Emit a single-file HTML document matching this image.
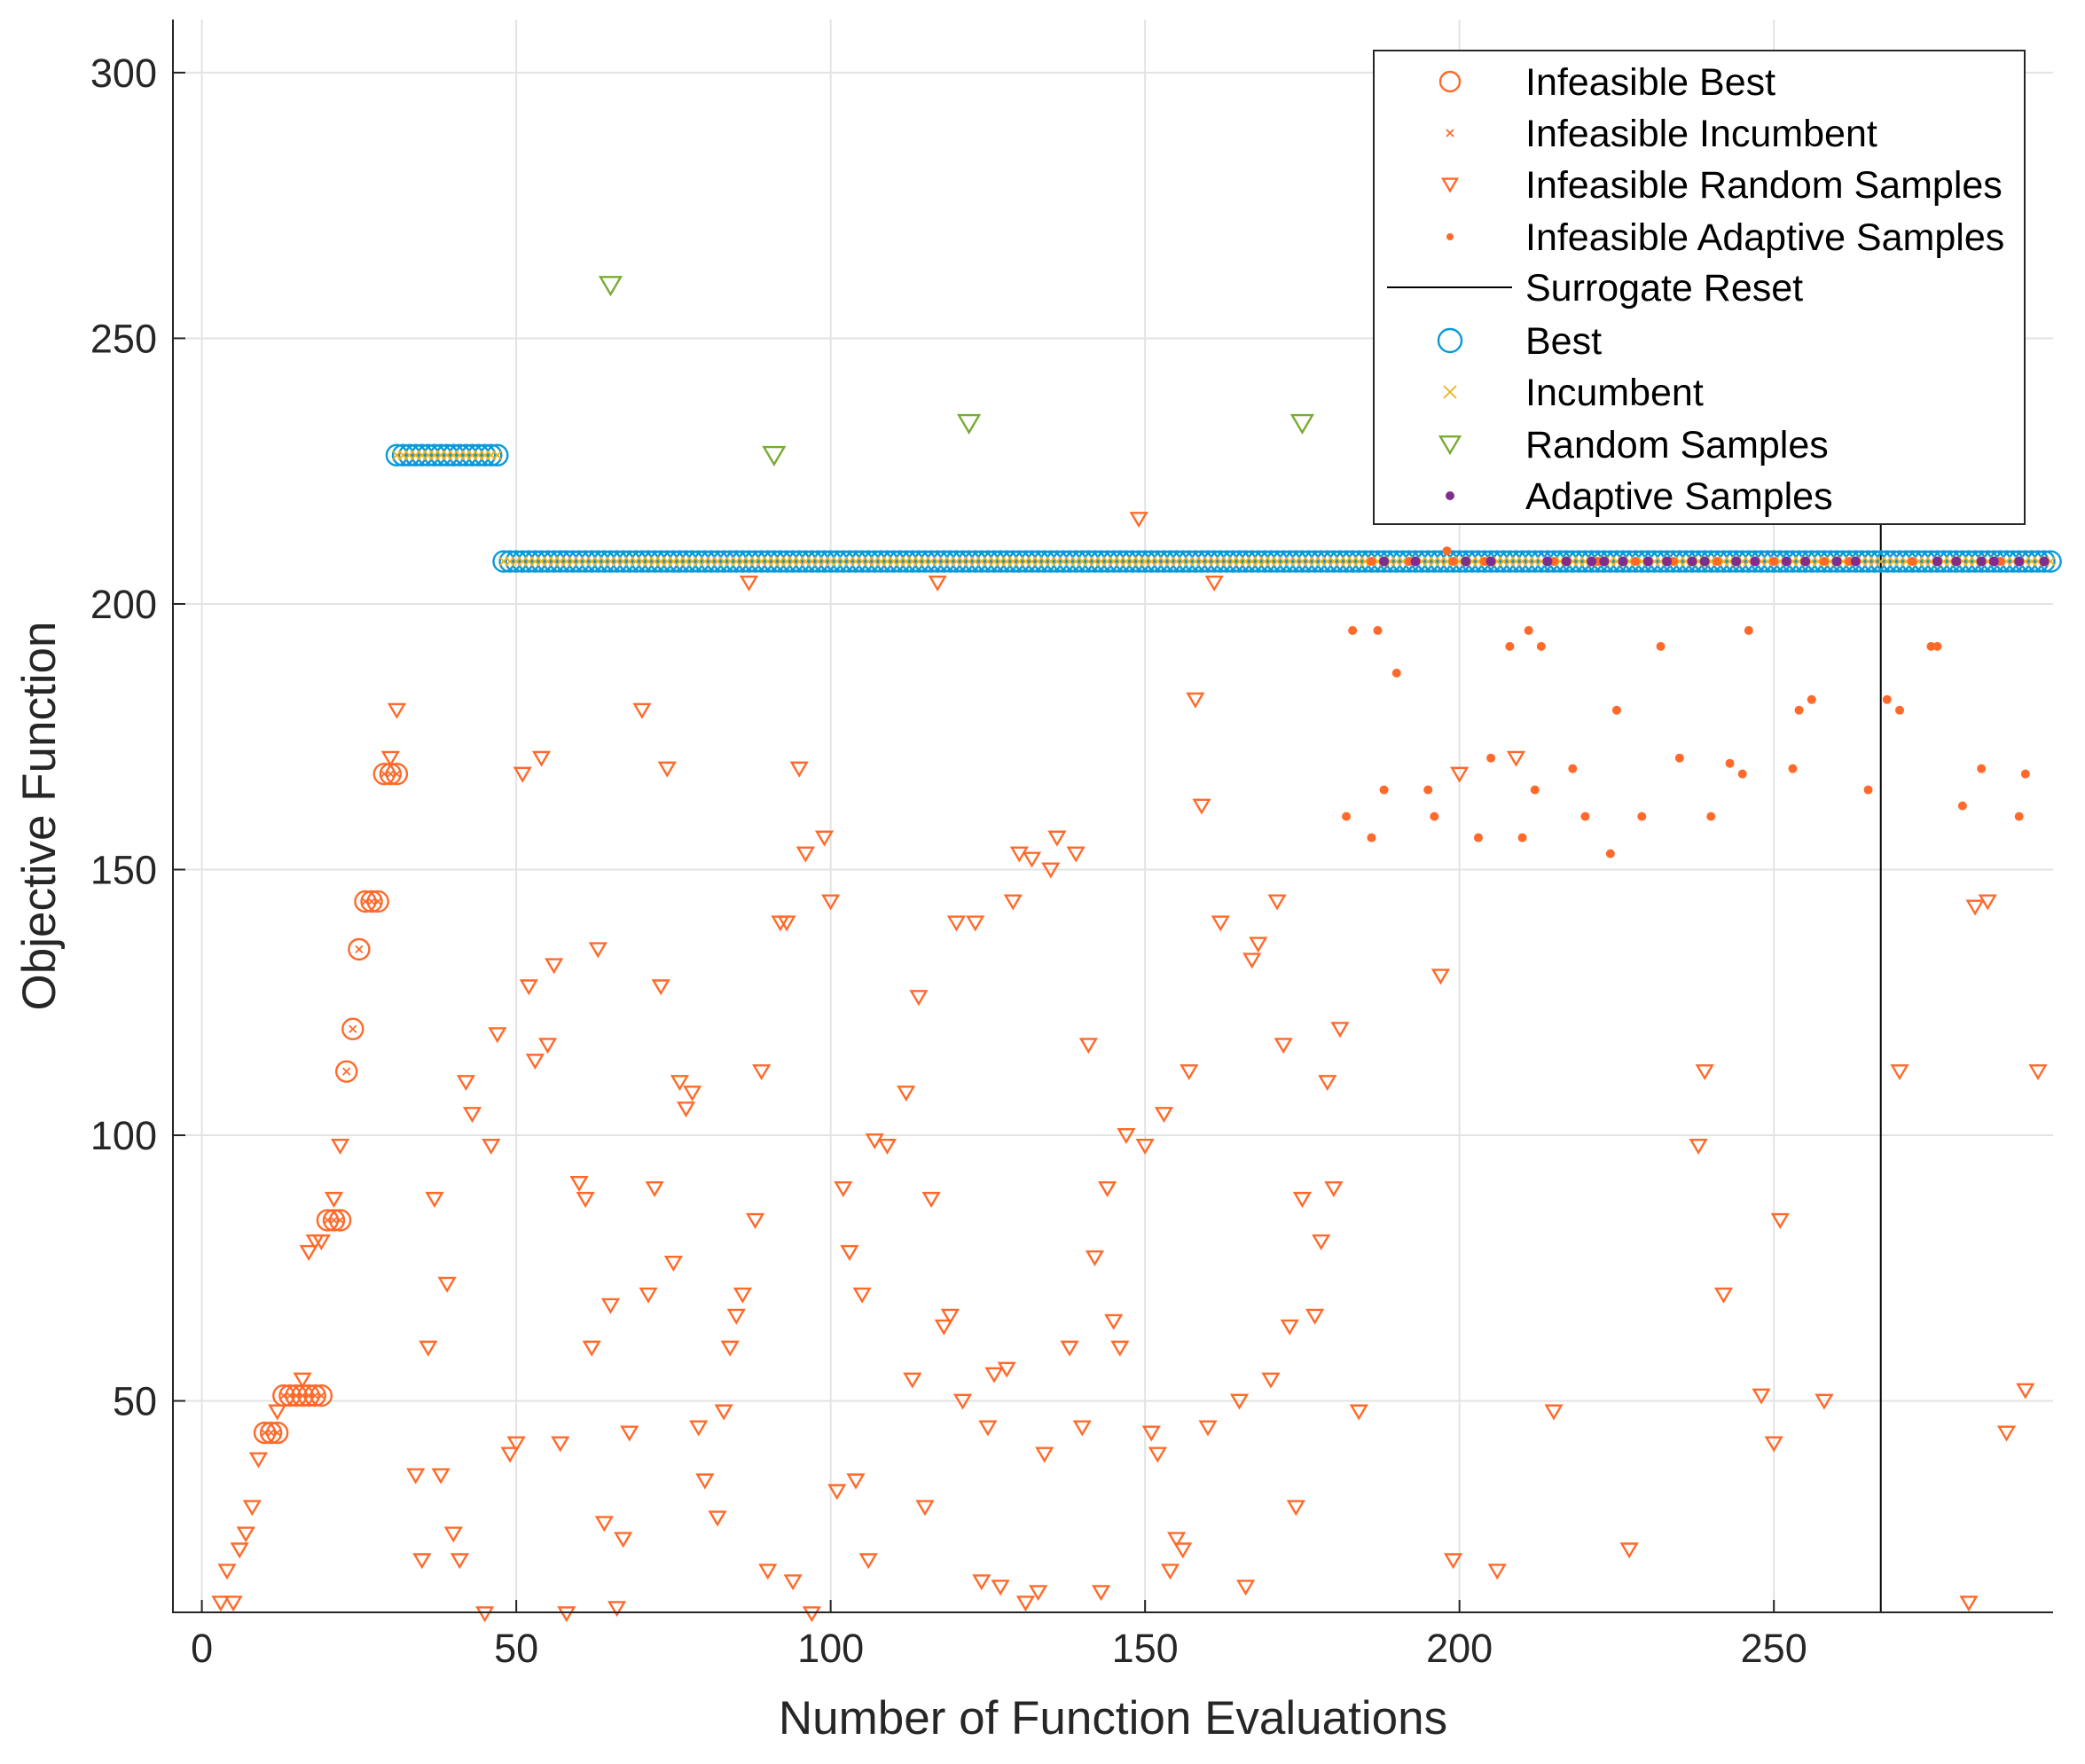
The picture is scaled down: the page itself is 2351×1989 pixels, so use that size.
<!DOCTYPE html>
<html><head><meta charset="utf-8"><style>
html,body{margin:0;padding:0;background:#fff;}
svg{display:block;font-family:"Liberation Sans",Arial,sans-serif;}
</style></head><body>
<svg id="chart" width="2351" height="1989" viewBox="0 0 2351 1989" xmlns="http://www.w3.org/2000/svg">
<g id="grid"></g>
<g id="marks"></g>
<g id="axes"></g>
<text x="1255" y="1955" font-size="53" text-anchor="middle" fill="#262626">Number of Function Evaluations</text>
<text x="0" y="0" font-size="53" text-anchor="middle" fill="#262626" transform="translate(62,920) rotate(-90)">Objective Function</text>
<g id="legend"></g>
</svg>
<script>
const xTicks=[0,50,100,150,200,250];
const yTicks=[50,100,150,200,250,300];
const infBestX=[10,11,12,13,14,15,16,17,18,19,20,21,22,23,24,25,26,27,28,29,30,31];
const infBestY=[44,44,44,51,51,51,51,51,51,51,84,84,84,112,120,135,144,144,144,168,168,168];
const bestX1Start=31, bestX1End=47, bestY1=228;
const bestX2Start=48, bestX2End=294, bestY2=208;
const infRandX=[3,4,5,6,7,8,9,12,16,17,18,19,21,22,30,31,34,35,36,37,38,39,40,41,42,43,45,46,47,49,50,51,52,53,54,55,56,57,58,60,61,62,63,64,65,66,67,68,70,71,72,73,74,75,76,77,78,79,80,82,83,84,85,86,87,88,89,90,92,93,94,95,96,97,99,100,101,102,103,104,105,106,107,109,112,113,114,115,116,117,118,119,120,121,123,124,125,126,127,128,129,130,131,132,133,134,135,136,138,139,140,141,142,143,144,145,146,147,149,150,151,152,153,154,155,156,157,158,159,160,161,162,165,166,167,168,170,171,172,173,174,175,177,178,179,180,181,184,197,199,200,206,209,215,227,238,239,242,248,250,251,258,270,281,282,284,287,290,292];
const infRandY=[12,18,12,22,25,30,39,48,54,78,80,80,88,98,171,180,36,20,60,88,36,72,25,20,110,104,10,98,119,40,42,168,128,114,171,117,132,42,10,91,88,60,135,27,68,11,24,44,180,70,90,128,169,76,110,105,108,45,35,28,48,60,66,70,204,84,112,18,140,140,16,169,153,10,156,144,33,90,78,35,70,20,99,98,108,54,126,30,88,204,64,66,140,50,140,16,45,55,15,56,144,153,12,152,14,40,150,156,60,153,45,117,77,14,90,65,60,100,216,98,44,40,104,18,24,22,112,182,162,45,204,140,50,15,133,136,54,144,117,64,30,88,66,80,110,90,120,48,130,20,168,18,171,48,22,98,112,70,51,42,84,50,112,12,143,144,44,52,112];
const infAdaptX=[182,183,186,187,188,190,195,196,198,203,205,208,210,211,212,213,218,220,224,225,229,232,235,240,243,245,246,253,254,256,265,268,270,275,276,280,283,289,290,186,192,199,204,215,222,228,234,241,250,258,262,272,286];
const infAdaptY=[160,195,156,195,165,187,165,160,210,156,171,192,156,195,165,192,169,160,153,180,160,192,171,160,170,168,195,169,180,182,165,182,180,192,192,162,169,160,168,208,208,208,208,208,208,208,208,208,208,208,208,208,208];
const randX=[65,91,122,175];
const randY=[260,228,234,234];
const adaptX=[188,193,201,205,214,217,221,223,226,230,233,237,239,244,247,252,255,260,263,276,279,283,285,289,293];
const adaptY=[208,208,208,208,208,208,208,208,208,208,208,208,208,208,208,208,208,208,208,208,208,208,208,208,208];
const resetX=[267];

const L=195,R=2315,T=22,B=1818;
const X0=-4.6,X1=294.4,Y0=10.2,Y1=310;
const sx=v=>L+(v-X0)/(X1-X0)*(R-L);
const sy=v=>B-(v-Y0)/(Y1-Y0)*(B-T);
const NS="http://www.w3.org/2000/svg";
function mk(tag,parent,attrs){const e=document.createElementNS(NS,tag);for(const k in attrs)e.setAttribute(k,attrs[k]);parent.appendChild(e);return e;}
const grid=document.getElementById('grid'),marks=document.getElementById('marks'),axes=document.getElementById('axes'),leg=document.getElementById('legend');
const OR="#FF6A2A",BL="#0A9AD8",YE="#EDB120",GR="#77AC30",PU="#7E2F8E";
xTicks.forEach(t=>{
 let g=mk('line',grid,{x1:sx(t),x2:sx(t),y1:T,y2:B,stroke:'#e3e3e3','stroke-width':2});
 
 let tk=mk('line',axes,{x1:sx(t),x2:sx(t),y1:B,y2:B-14,stroke:'#262626','stroke-width':2});
 
 let tx=mk('text',axes,{x:sx(t),y:B+56,'font-size':45,'text-anchor':'middle',fill:'#262626'});tx.textContent=t;
 
});
yTicks.forEach(t=>{
 let g=mk('line',grid,{x1:L,x2:R,y1:sy(t),y2:sy(t),stroke:'#e3e3e3','stroke-width':2});
 
 let tk=mk('line',axes,{x1:L,x2:L+14,y1:sy(t),y2:sy(t),stroke:'#262626','stroke-width':2});
 
 let tx=mk('text',axes,{x:L-18,y:sy(t)+16,'font-size':45,'text-anchor':'end',fill:'#262626'});tx.textContent=t;
 
});
let ax=mk('path',axes,{d:`M${L},${T}V${B}H${R}`,fill:'none',stroke:'#262626','stroke-width':2});


function circle(p,cx,cy,c,r){return mk('circle',p,{cx,cy,r,fill:'none',stroke:c,'stroke-width':2.4});}
function cross(p,cx,cy,c,s){return mk('path',p,{d:`M${cx-s},${cy-s}L${cx+s},${cy+s}M${cx-s},${cy+s}L${cx+s},${cy-s}`,stroke:c,'stroke-width':1.8,fill:'none'});}
function tri(p,cx,cy,c,s){return mk('path',p,{d:`M${cx-s},${cy-s*0.8}L${cx+s},${cy-s*0.8}L${cx},${cy+s*0.9}Z`,stroke:c,'stroke-width':2.4,fill:'none'});}
function dot(p,cx,cy,c,r){return mk('circle',p,{cx,cy,r,fill:c});}

resetX.forEach(v=>{let e=mk('line',marks,{x1:sx(v),x2:sx(v),y1:591,y2:B,stroke:'#000','stroke-width':2});
 });
infRandX.forEach((x,i)=>{let e=tri(marks,sx(x),sy(infRandY[i]),OR,8.5);
 });
randX.forEach((x,i)=>{let e=tri(marks,sx(x),sy(randY[i]),GR,11.5);
 });
infBestX.forEach((x,i)=>{let e=circle(marks,sx(x),sy(infBestY[i]),OR,11.5);
 
 let c=cross(marks,sx(x),sy(infBestY[i]),OR,4);
 });
for(let x=bestX1Start;x<=bestX1End;x++){let e=circle(marks,sx(x),sy(bestY1),BL,11.5);
 }
for(let x=bestX2Start;x<=bestX2End;x++){let e=circle(marks,sx(x),sy(bestY2),BL,11.5);
 }
for(let x=bestX1Start;x<=bestX1End;x++){let c=cross(marks,sx(x),sy(bestY1),YE,5);
 }
for(let x=bestX2Start;x<=bestX2End;x++){let c=cross(marks,sx(x),sy(bestY2),YE,5);
 }
infAdaptX.forEach((x,i)=>{let e=dot(marks,sx(x),sy(infAdaptY[i]),OR,5);
 });
adaptX.forEach((x,i)=>{let e=dot(marks,sx(x),sy(adaptY[i]),PU,5.5);
 });

const LX=1549,LY=57,LW=734,LH=534;
let box=mk('rect',leg,{x:LX,y:LY,width:LW,height:LH,fill:'#fff',stroke:'#262626','stroke-width':2});

const legLabels=["Infeasible Best","Infeasible Incumbent","Infeasible Random Samples","Infeasible Adaptive Samples","Surrogate Reset","Best","Incumbent","Random Samples","Adaptive Samples"];
const rowsY=[92,150,208,267,324,384,442,501,559];
legLabels.forEach((lab,i)=>{
 const y=rowsY[i],mx=1635;let m;
 if(i==0)m=circle(leg,mx,y,OR,11);
 else if(i==1)m=cross(leg,mx,y,OR,4);
 else if(i==2)m=tri(leg,mx,y,OR,8);
 else if(i==3)m=dot(leg,mx,y,OR,4);
 else if(i==4)m=mk('line',leg,{x1:1564,x2:1705,y1:y,y2:y,stroke:'#000','stroke-width':2});
 else if(i==5)m=circle(leg,mx,y,BL,13);
 else if(i==6)m=cross(leg,mx,y,YE,7);
 else if(i==7)m=tri(leg,mx,y,GR,11);
 else m=dot(leg,mx,y,PU,5);
 
 let t=mk('text',leg,{x:1720,y:y+15,'font-size':43,fill:'#000'});t.textContent=lab;
 
});
</script>
</body></html>
